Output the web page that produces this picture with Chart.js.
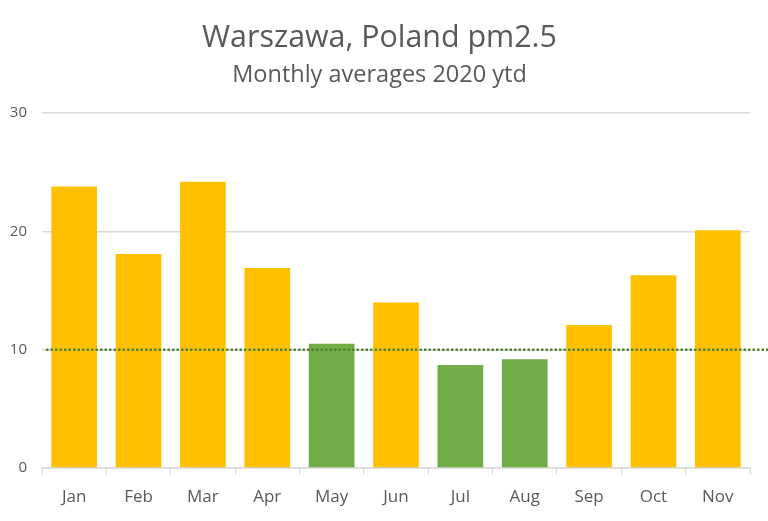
<!DOCTYPE html>
<html>
<head>
<meta charset="utf-8">
<script src="https://cdn.jsdelivr.net/npm/chart.js@4"></script>
<style>
  html, body { margin: 0; padding: 0; background: #fff; }
  #wrap { width: 768px; height: 521px; }
</style>
</head>
<body>
<div id="wrap"><canvas id="c" width="768" height="521"></canvas></div>
<script>
const months = ["Jan","Feb","Mar","Apr","May","Jun","Jul","Aug","Sep","Oct","Nov"];
const pm25 = [23.8, 18.1, 24.2, 16.9, 10.5, 14.0, 8.7, 9.2, 12.1, 16.3, 20.1];
const greenMonths = ["May","Jul","Aug"];
const yTicks = [0, 10, 20, 30];
const limitValue = 10;

const FONT = "'Open Sans', sans-serif";
const barColors = months.map(m => greenMonths.includes(m) ? "#70AD47" : "#FFC000");

const limitLine = {
  id: "limitLine",
  afterDatasetsDraw(chart) {
    const { ctx, chartArea, scales } = chart;
    const y = scales.y.getPixelForValue(limitValue);
    ctx.save();
    ctx.strokeStyle = "#548235";
    ctx.lineWidth = 2.5;
    ctx.setLineDash([2.5, 2]);
    ctx.beginPath();
    ctx.moveTo(chartArea.left + 4, y);
    ctx.lineTo(chart.width, y);
    ctx.stroke();
    ctx.restore();
  }
};

new Chart(document.getElementById("c"), {
  type: "bar",
  data: {
    labels: months,
    datasets: [{
      data: pm25,
      backgroundColor: barColors,
      categoryPercentage: 1,
      barPercentage: 0.71,
      borderWidth: 0
    }]
  },
  options: {
    responsive: false,
    animation: false,
    layout: { padding: { left: 9, right: 18, top: 0, bottom: 0 } },
    plugins: {
      legend: { display: false },
      tooltip: { enabled: false },
      title: {
        display: true,
        text: "Warszawa, Poland pm2.5",
        color: "#595959",
        font: { family: FONT, size: 30.4, weight: "normal" },
        padding: { top: 20, bottom: 5 }
      },
      subtitle: {
        display: true,
        text: "Monthly averages 2020 ytd",
        color: "#595959",
        font: { family: FONT, size: 23.5, weight: "normal" },
        padding: { top: 0, bottom: 23.5 }
      }
    },
    scales: {
      x: {
        grid: { display: true, drawOnChartArea: false, drawTicks: true, tickLength: 7, color: "#D9D9D9", offset: true },
        border: { display: true, color: "#D9D9D9", width: 1.5 },
        ticks: { color: "#595959", font: { family: FONT, size: 17 }, padding: 12 },
        afterFit(s) { s.height = 53; }
      },
      y: {
        min: 0, max: 30,
        afterBuildTicks(s) { s.ticks = yTicks.map(v => ({ value: v })); },
        grid: { color: "#D9D9D9", lineWidth: 1.5, drawTicks: false },
        border: { display: false },
        ticks: { color: "#595959", font: { family: FONT, size: 15 }, padding: 15 },
        afterFit(s) { s.width = 33; }
      }
    }
  },
  plugins: [limitLine]
});
</script>
</body>
</html>
